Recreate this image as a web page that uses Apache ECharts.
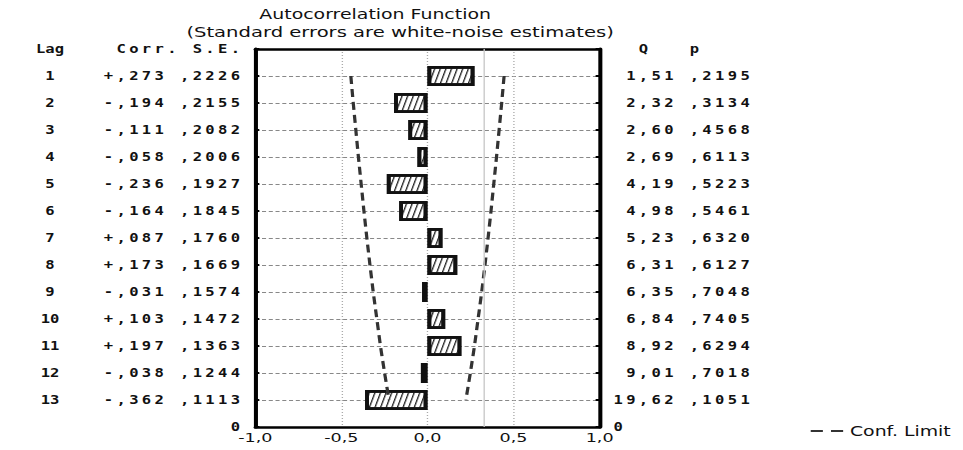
<!DOCTYPE html>
<html>
<head>
<meta charset="utf-8">
<script src="https://cdn.jsdelivr.net/npm/echarts@6/dist/echarts.min.js"></script>
<style>
  html, body { margin: 0; padding: 0; background: #fff; overflow: hidden; }
  /* the original is a horizontally stretched screenshot, so draw narrow and stretch */
  #chart { width: 713px; height: 450px; transform: scaleX(1.3506); transform-origin: 0 0; }
</style>
</head>
<body>
<div id="chart"></div>
<script>
const lags = [1, 2, 3, 4, 5, 6, 7, 8, 9, 10, 11, 12, 13];
const corr = [0.273, -0.194, -0.111, -0.058, -0.236, -0.164, 0.087, 0.173, -0.031, 0.103, 0.197, -0.038, -0.362];
const stdErr = [0.2226, 0.2155, 0.2082, 0.2006, 0.1927, 0.1845, 0.1760, 0.1669, 0.1574, 0.1472, 0.1363, 0.1244, 0.1113];
const boxQ = [1.51, 2.32, 2.60, 2.69, 4.19, 4.98, 5.23, 6.31, 6.35, 6.84, 8.92, 9.01, 19.62];
const pVal = [0.2195, 0.3134, 0.4568, 0.6113, 0.5223, 0.5461, 0.6320, 0.6127, 0.7048, 0.7405, 0.6294, 0.7018, 0.1051];
// dashed confidence limits
const confHigh = [0.445, 0.431, 0.416, 0.401, 0.385, 0.369, 0.352, 0.334, 0.315, 0.294, 0.273, 0.249, 0.223];
const confLow = [-0.445, -0.431, -0.416, -0.401, -0.385, -0.369, -0.352, -0.334, -0.315, -0.294, -0.273, -0.249, -0.223];

const rows = ['0'].concat(lags.map(String), ['14']);

const mono = { fontFamily: 'DejaVu Sans Mono', fontSize: 11.5, fontWeight: 'bold', color: '#111' };
const rich = {
  c: Object.assign({ width: 9.4, align: 'center' }, mono),
  lag: Object.assign({ width: 30, align: 'center' }, mono),
  gap: Object.assign({ width: 23.6, align: 'center' }, mono),
  gap2: Object.assign({ width: 33, align: 'center' }, mono)
};

// one fixed-width box per character, like the old fixed pitch print
const boxes = (s) => s.split('').map(ch => '{c|' + ch + '}').join('');
const fmtCorr = (v) => (v >= 0 ? '+' : '-') + ',' + String(Math.round(Math.abs(v) * 1000)).padStart(3, '0');
const fmt4 = (v) => ',' + String(Math.round(v * 10000)).padStart(4, '0');

const leftLabel = (value, idx) => {
  if (idx === 0) return '{lag|Lag}{gap2| }' + boxes('Corr. S.E.');
  if (idx === rows.length - 1) return boxes('0');
  const i = idx - 1;
  return '{lag|' + lags[i] + '}{gap| }' + boxes(fmtCorr(corr[i]) + ' ' + fmt4(stdErr[i]));
};
const rightLabel = (value, idx) => {
  if (idx === 0) return boxes('  Q   p');
  if (idx === rows.length - 1) return boxes('0');
  const i = idx - 1;
  return boxes(boxQ[i].toFixed(2).replace('.', ',').padStart(5, ' ') + ' ' + fmt4(pVal[i]));
};

const chart = echarts.init(document.getElementById('chart'), null, { renderer: 'svg' });

const sans = 'DejaVu Sans';
const option = {
  animation: false,
  backgroundColor: '#fff',
  title: [
    { text: 'Autocorrelation Function', left: 192, top: 7, padding: 0,
      textStyle: { fontFamily: sans, fontSize: 14, fontWeight: 'normal', color: '#111' } },
    { text: '(Standard errors are white-noise estimates)', left: 138, top: 24, padding: 0,
      textStyle: { fontFamily: sans, fontSize: 14.5, fontWeight: 'normal', color: '#111' } }
  ],
  legend: {
    right: 4,
    top: 419,
    itemWidth: 24,
    itemHeight: 2,
    data: [{ name: 'Conf. Limit', icon: 'path://M0,0H9V2H0Z M15,0H24V2H15Z' }],
    itemStyle: { color: '#333', borderWidth: 0 },
    textStyle: { fontFamily: sans, fontSize: 14, color: '#111' }
  },
  grid: { left: 189, right: 269, top: 49, bottom: 23 },
  xAxis: [
    {
      type: 'value', position: 'bottom', min: -1, max: 1, interval: 0.5,
      axisLine: { show: true, onZero: false, lineStyle: { color: '#000', width: 2.5 } },
      axisTick: { inside: true, length: 4, lineStyle: { color: '#000', width: 2 } },
      axisLabel: { margin: 4, fontFamily: sans, fontSize: 13, color: '#111',
        formatter: (v) => v.toFixed(1).replace('.', ',') },
      splitLine: { show: true, lineStyle: { color: '#aaa', type: [1, 2], width: 1 } }
    },
    {
      type: 'value', position: 'top', min: -1, max: 1, interval: 0.5,
      axisLine: { show: true, onZero: false, lineStyle: { color: '#000', width: 2.5 } },
      axisTick: { inside: true, length: 4, lineStyle: { color: '#000', width: 2 } },
      axisLabel: { show: false },
      splitLine: { show: false }
    }
  ],
  yAxis: [
    {
      type: 'category', data: rows, inverse: true, boundaryGap: false, position: 'left',
      axisLine: { show: true, onZero: false, lineStyle: { color: '#000', width: 3 } },
      axisTick: { inside: true, length: 3, interval: 0, lineStyle: { color: '#000', width: 2 } },
      axisLabel: { interval: 0, margin: 10, formatter: leftLabel, rich: rich },
      splitLine: { show: true, interval: 0, lineStyle: { color: '#888', type: [3, 2], width: 1.2 } }
    },
    {
      type: 'category', data: rows, inverse: true, boundaryGap: false, position: 'right',
      axisLine: { show: true, onZero: false, lineStyle: { color: '#000', width: 3 } },
      axisTick: { inside: true, length: 3, interval: 0, lineStyle: { color: '#000', width: 2 } },
      axisLabel: { interval: 0, margin: 9, align: 'left', formatter: rightLabel, rich: rich },
      splitLine: { show: false }
    }
  ],
  series: [
    {
      name: 'ACF',
      type: 'bar',
      xAxisIndex: 0,
      yAxisIndex: 0,
      barWidth: 20,
      data: corr.map((v, i) => [v, String(lags[i])]),
      itemStyle: {
        color: '#fff',
        borderColor: '#111',
        borderWidth: 2.8,
        decal: {
          symbol: 'rect',
          symbolSize: 1,
          color: '#222',
          backgroundColor: '#fff',
          dashArrayX: [1, 0],
          dashArrayY: [1, 2.4],
          rotation: -1.3
        }
      },
      markLine: {
        silent: true,
        symbol: 'none',
        label: { show: false },
        lineStyle: { color: '#c8c8c8', type: 'solid', width: 1 },
        data: [{ xAxis: 0.33 }]
      }
    },
    {
      name: 'Conf. Limit',
      type: 'line',
      xAxisIndex: 0,
      yAxisIndex: 0,
      symbol: 'none',
      data: confHigh.map((v, i) => [v, String(lags[i])]),
      itemStyle: { color: '#333' },
      lineStyle: { color: '#333', width: 2.4, type: [8, 5] }
    },
    {
      name: 'Conf. Limit',
      type: 'line',
      xAxisIndex: 0,
      yAxisIndex: 0,
      symbol: 'none',
      data: confLow.map((v, i) => [v, String(lags[i])]),
      itemStyle: { color: '#333' },
      lineStyle: { color: '#333', width: 2.4, type: [8, 5] }
    }
  ]
};

chart.setOption(option);
</script>
</body>
</html>
